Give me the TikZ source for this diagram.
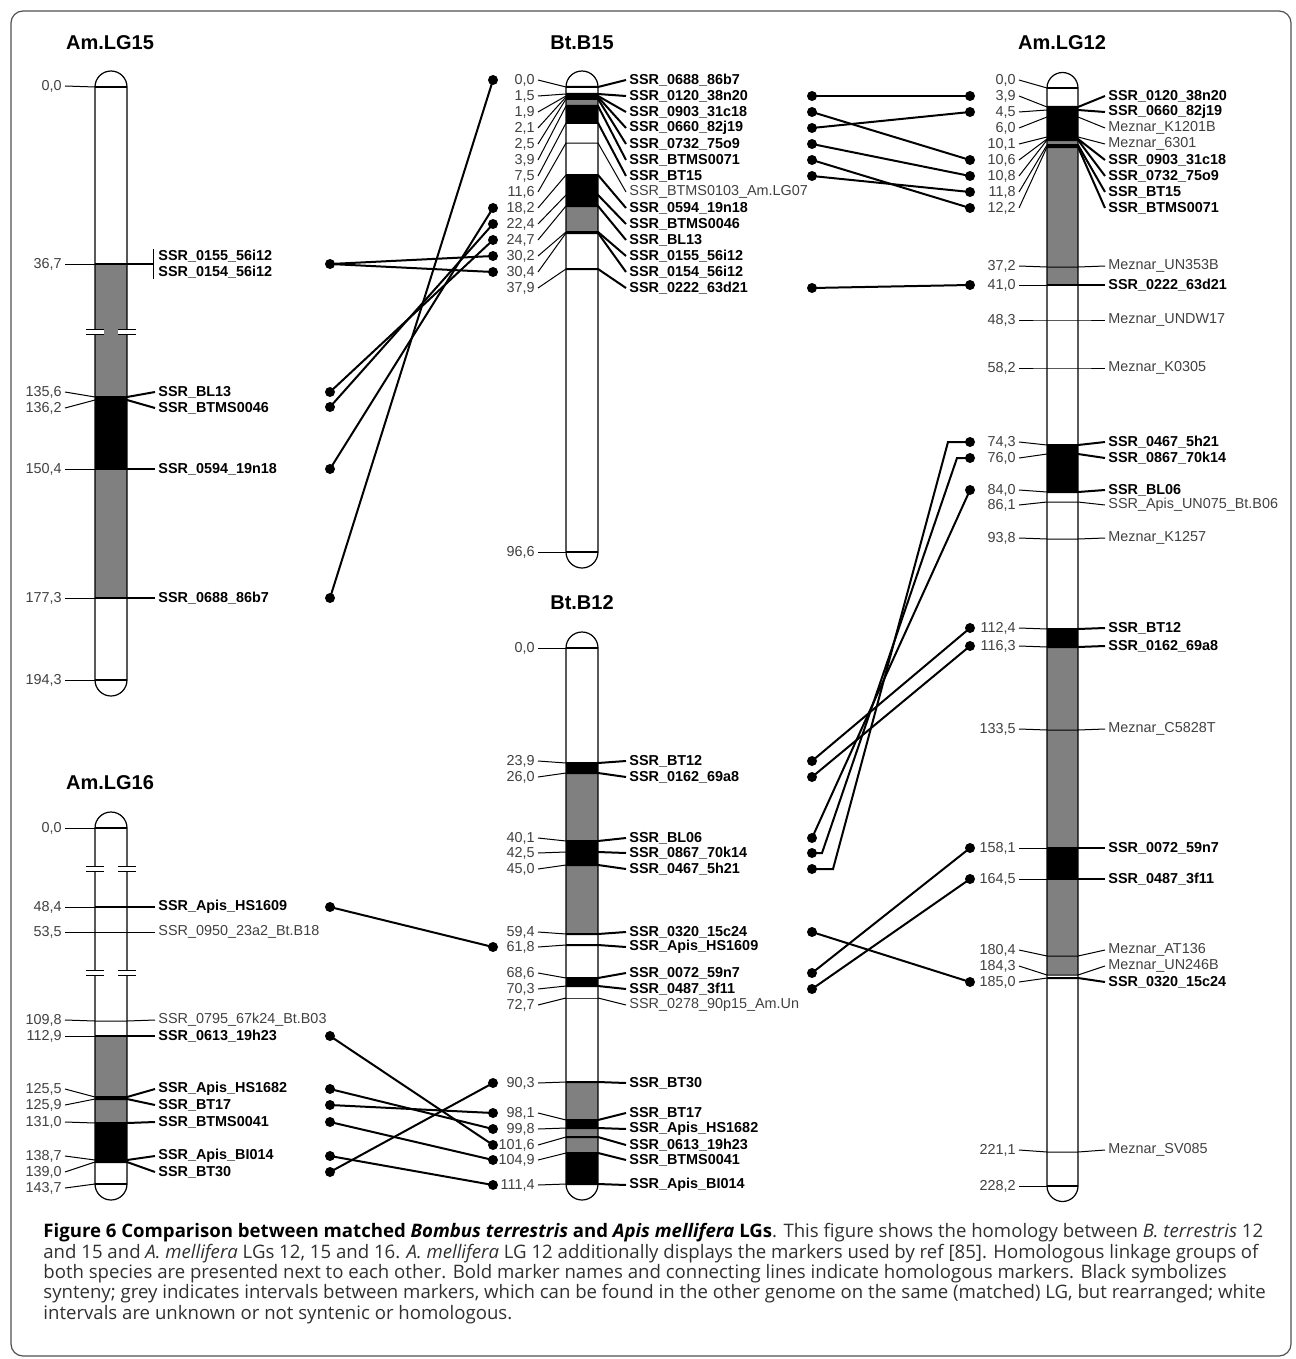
\documentclass[tikz,border=0pt]{standalone}
\usepackage{fontspec}
\setmainfont{Liberation Sans}
\newfontfamily\capfont{Open Sans}
\definecolor{numgray}{HTML}{404040}
\definecolor{bandgray}{HTML}{808080}
\definecolor{framegray}{HTML}{505050}
\definecolor{capgray}{HTML}{303030}
\begin{document}
\begin{tikzpicture}[x=0.5pt,y=-0.5pt,
num/.style={anchor=east, inner sep=1.5pt, text=numgray, font=\fontsize{7.2}{8}\selectfont},
bmk/.style={anchor=west, inner sep=1.5pt, font=\fontsize{7.2}{8}\selectfont\bfseries},
tmk/.style={anchor=west, inner sep=1.5pt, text=numgray, font=\fontsize{7.2}{8}\selectfont},
ttl/.style={font=\fontsize{10}{12}\selectfont\bfseries},
dot/.style={circle, fill, inner sep=0pt, minimum size=5pt},
tk/.style={line width=0.5pt},
tkb/.style={line width=1pt},
lnk/.style={line width=1pt},
chr/.style={line width=0.6pt},
captxt/.style={anchor=base west, inner sep=0pt, text=capgray, font=\capfont\fontsize{9.3}{10.3}\selectfont}]
\useasboundingbox (0,0) rectangle (1295,1359);
\draw[framegray, line width=0.6pt, rounded corners=6pt] (11,11) rectangle (1291,1356);

\node[ttl] (a15t) at (110,43) {Am.LG15};
\node[ttl] (b15t) at (582,43) {Bt.B15};
\node[ttl] (a12t) at (1062,43) {Am.LG12};
\node[ttl] (b12t) at (582,603) {Bt.B12};
\node[ttl] (a16t) at (110,783) {Am.LG16};

\fill[white] (95,680) -- (95,87) arc[start angle=180, end angle=0, radius=8pt] -- (127,680) arc[start angle=0, end angle=-180, radius=8pt] -- cycle;
\fill[bandgray] (95,264) rectangle (127,397);
\fill[black] (95,397) rectangle (127,469);
\fill[bandgray] (95,469) rectangle (127,598);
\node[num] (a15n0) at (65,86) {0,0};
\node[num] (a15n1) at (65,264) {36,7};
\node[num] (a15n2) at (65,392) {135,6};
\node[num] (a15n3) at (65,408) {136,2};
\node[num] (a15n4) at (65,469) {150,4};
\node[num] (a15n5) at (65,598) {177,3};
\node[num] (a15n6) at (65,680) {194,3};
\node[bmk] (a15m1) at (155,256) {SSR\_0155\_56i12};
\node[bmk] (a15m2) at (155,272) {SSR\_0154\_56i12};
\node[bmk] (a15m3) at (155,392) {SSR\_BL13};
\node[bmk] (a15m4) at (155,408) {SSR\_BTMS0046};
\node[bmk] (a15m5) at (155,469) {SSR\_0594\_19n18};
\node[bmk] (a15m6) at (155,598) {SSR\_0688\_86b7};
\draw[tk] (a15n0.east) -- (95,87); \draw[tkb] (95,87) -- (127,87);
\draw[tk] (a15n1.east) -- (95,264); \draw[tkb] (95,264) -- (153,264);
\draw[tk] (153,249) -- (153,279);
\draw[tk] (a15n2.east) -- (95,397); \draw[tkb] (95,397) -- (127,397) -- (a15m3.west);
\draw[tk] (a15n3.east) -- (95,400); \draw[tkb] (95,400) -- (127,400) -- (a15m4.west);
\draw[tk] (a15n4.east) -- (95,469); \draw[tkb] (95,469) -- (127,469) -- (a15m5.west);
\draw[tk] (a15n5.east) -- (95,598); \draw[tkb] (95,598) -- (127,598) -- (a15m6.west);
\draw[tk] (a15n6.east) -- (95,680); \draw[tkb] (95,680) -- (127,680);
\draw[chr] (95,680) -- (95,87) arc[start angle=180, end angle=0, radius=8pt] -- (127,680) arc[start angle=0, end angle=-180, radius=8pt] -- cycle;
\fill[white] (86,329) rectangle (104,334); \fill[white] (118,329) rectangle (136,334);
\draw[tk] (86,329) -- (104,329) (86,334) -- (104,334) (118,329) -- (136,329) (118,334) -- (136,334);

\fill[white] (95,1184) -- (95,828) arc[start angle=180, end angle=0, radius=8pt] -- (127,1184) arc[start angle=0, end angle=-180, radius=8pt] -- cycle;
\fill[bandgray] (95,1036) rectangle (127,1123);
\fill[black] (95,1097) rectangle (127,1099);
\fill[black] (95,1123) rectangle (127,1162);
\node[num] (a16n0) at (65,828) {0,0};
\node[num] (a16n1) at (65,907) {48,4};
\node[num] (a16n2) at (65,932) {53,5};
\node[num] (a16n3) at (65,1020) {109,8};
\node[num] (a16n4) at (65,1036) {112,9};
\node[num] (a16n5) at (65,1089) {125,5};
\node[num] (a16n6) at (65,1105) {125,9};
\node[num] (a16n7) at (65,1122) {131,0};
\node[num] (a16n8) at (65,1156) {138,7};
\node[num] (a16n9) at (65,1172) {139,0};
\node[num] (a16n10) at (65,1188) {143,7};
\node[bmk] (a16m1) at (155,907) {SSR\_Apis\_HS1609};
\node[tmk] (a16m2) at (155,932) {SSR\_0950\_23a2\_Bt.B18};
\node[tmk] (a16m3) at (155,1020) {SSR\_0795\_67k24\_Bt.B03};
\node[bmk] (a16m4) at (155,1036) {SSR\_0613\_19h23};
\node[bmk] (a16m5) at (155,1089) {SSR\_Apis\_HS1682};
\node[bmk] (a16m6) at (155,1105) {SSR\_BT17};
\node[bmk] (a16m7) at (155,1122) {SSR\_BTMS0041};
\node[bmk] (a16m8) at (155,1156) {SSR\_Apis\_BI014};
\node[bmk] (a16m9) at (155,1172) {SSR\_BT30};
\draw[tk] (a16n0.east) -- (95,828); \draw[tkb] (95,828) -- (127,828);
\draw[tk] (a16n1.east) -- (95,907); \draw[tkb] (95,907) -- (127,907) -- (a16m1.west);
\draw[tk] (a16n2.east) -- (95,932) -- (127,932) -- (a16m2.west);
\draw[tk] (a16n3.east) -- (95,1021) -- (127,1021) -- (a16m3.west);
\draw[tk] (a16n4.east) -- (95,1036); \draw[tkb] (95,1036) -- (127,1036) -- (a16m4.west);
\draw[tk] (a16n5.east) -- (95,1097); \draw[tkb] (95,1097) -- (127,1097) -- (a16m5.west);
\draw[tk] (a16n6.east) -- (95,1099); \draw[tkb] (95,1099) -- (127,1099) -- (a16m6.west);
\draw[tk] (a16n7.east) -- (95,1123); \draw[tkb] (95,1123) -- (127,1123) -- (a16m7.west);
\draw[tk] (a16n8.east) -- (95,1160); \draw[tkb] (95,1160) -- (127,1160) -- (a16m8.west);
\draw[tk] (a16n9.east) -- (95,1162); \draw[tkb] (95,1162) -- (127,1162) -- (a16m9.west);
\draw[tk] (a16n10.east) -- (95,1184); \draw[tkb] (95,1184) -- (127,1184);
\draw[chr] (95,1184) -- (95,828) arc[start angle=180, end angle=0, radius=8pt] -- (127,1184) arc[start angle=0, end angle=-180, radius=8pt] -- cycle;
\fill[white] (86,866) rectangle (104,871); \fill[white] (118,866) rectangle (136,871);
\draw[tk] (86,866) -- (104,866) (86,871) -- (104,871) (118,866) -- (136,866) (118,871) -- (136,871);
\fill[white] (86,970) rectangle (104,975); \fill[white] (118,970) rectangle (136,975);
\draw[tk] (86,970) -- (104,970) (86,975) -- (104,975) (118,970) -- (136,970) (118,975) -- (136,975);

\fill[white] (566,552) -- (566,87) arc[start angle=180, end angle=0, radius=8pt] -- (598,552) arc[start angle=0, end angle=-180, radius=8pt] -- cycle;
\fill[black] (566,94) rectangle (598,96);
\fill[bandgray] (566,96) rectangle (598,106);
\fill[black] (566,106) rectangle (598,123);
\fill[black] (566,175) rectangle (598,206);
\fill[bandgray] (566,206) rectangle (598,232);
\node[num] (b15n0) at (538,80) {0,0};
\node[num] (b15n1) at (538,96) {1,5};
\node[num] (b15n2) at (538,112) {1,9};
\node[num] (b15n3) at (538,128) {2,1};
\node[num] (b15n4) at (538,144) {2,5};
\node[num] (b15n5) at (538,160) {3,9};
\node[num] (b15n6) at (538,176) {7,5};
\node[num] (b15n7) at (538,192) {11,6};
\node[num] (b15n8) at (538,208) {18,2};
\node[num] (b15n9) at (538,224) {22,4};
\node[num] (b15n10) at (538,240) {24,7};
\node[num] (b15n11) at (538,256) {30,2};
\node[num] (b15n12) at (538,272) {30,4};
\node[num] (b15n13) at (538,288) {37,9};
\node[num] (b15n14) at (538,552) {96,6};
\node[bmk] (b15m0) at (626,80) {SSR\_0688\_86b7};
\node[bmk] (b15m1) at (626,96) {SSR\_0120\_38n20};
\node[bmk] (b15m2) at (626,112) {SSR\_0903\_31c18};
\node[bmk] (b15m3) at (626,128) {SSR\_0660\_82j19};
\node[bmk] (b15m4) at (626,144) {SSR\_0732\_75o9};
\node[bmk] (b15m5) at (626,160) {SSR\_BTMS0071};
\node[bmk] (b15m6) at (626,176) {SSR\_BT15};
\node[tmk] (b15m7) at (626,192) {SSR\_BTMS0103\_Am.LG07};
\node[bmk] (b15m8) at (626,208) {SSR\_0594\_19n18};
\node[bmk] (b15m9) at (626,224) {SSR\_BTMS0046};
\node[bmk] (b15m10) at (626,240) {SSR\_BL13};
\node[bmk] (b15m11) at (626,256) {SSR\_0155\_56i12};
\node[bmk] (b15m12) at (626,272) {SSR\_0154\_56i12};
\node[bmk] (b15m13) at (626,288) {SSR\_0222\_63d21};
\draw[tk] (b15n0.east) -- (566,87); \draw[tkb] (566,87) -- (598,87) -- (b15m0.west);
\draw[tk] (b15n1.east) -- (566,94); \draw[tkb] (566,94) -- (598,94) -- (b15m1.west);
\draw[tk] (b15n2.east) -- (566,96); \draw[tkb] (566,96) -- (598,96) -- (b15m2.west);
\draw[tk] (b15n3.east) -- (566,97); \draw[tkb] (566,97) -- (598,97) -- (b15m3.west);
\draw[tk] (b15n4.east) -- (566,99); \draw[tkb] (566,99) -- (598,99) -- (b15m4.west);
\draw[tk] (b15n5.east) -- (566,106); \draw[tkb] (566,106) -- (598,106) -- (b15m5.west);
\draw[tk] (b15n6.east) -- (566,123); \draw[tkb] (566,123) -- (598,123) -- (b15m6.west);
\draw[tk] (b15n7.east) -- (566,143) -- (598,143) -- (b15m7.west);
\draw[tk] (b15n8.east) -- (566,175); \draw[tkb] (566,175) -- (598,175) -- (b15m8.west);
\draw[tk] (b15n9.east) -- (566,195); \draw[tkb] (566,195) -- (598,195) -- (b15m9.west);
\draw[tk] (b15n10.east) -- (566,206); \draw[tkb] (566,206) -- (598,206) -- (b15m10.west);
\draw[tk] (b15n11.east) -- (566,232); \draw[tkb] (566,232) -- (598,232) -- (b15m11.west);
\draw[tk] (b15n12.east) -- (566,233); \draw[tkb] (566,233) -- (598,233) -- (b15m12.west);
\draw[tk] (b15n13.east) -- (566,269); \draw[tkb] (566,269) -- (598,269) -- (b15m13.west);
\draw[tk] (b15n14.east) -- (566,552); \draw[tkb] (566,552) -- (598,552);
\draw[chr] (566,552) -- (566,87) arc[start angle=180, end angle=0, radius=8pt] -- (598,552) arc[start angle=0, end angle=-180, radius=8pt] -- cycle;

\fill[white] (566,1184) -- (566,648) arc[start angle=180, end angle=0, radius=8pt] -- (598,1184) arc[start angle=0, end angle=-180, radius=8pt] -- cycle;
\fill[black] (566,763) rectangle (598,773);
\fill[bandgray] (566,773) rectangle (598,841);
\fill[black] (566,841) rectangle (598,865);
\fill[bandgray] (566,865) rectangle (598,934);
\fill[black] (566,978) rectangle (598,986);
\fill[bandgray] (566,1082) rectangle (598,1120);
\fill[black] (566,1120) rectangle (598,1128);
\fill[bandgray] (566,1128) rectangle (598,1153);
\fill[black] (566,1153) rectangle (598,1184);
\node[num] (b12n0) at (538,648) {0,0};
\node[num] (b12n1) at (538,761) {23,9};
\node[num] (b12n2) at (538,777) {26,0};
\node[num] (b12n3) at (538,838) {40,1};
\node[num] (b12n4) at (538,853) {42,5};
\node[num] (b12n5) at (538,869) {45,0};
\node[num] (b12n6) at (538,932) {59,4};
\node[num] (b12n7) at (538,947) {61,8};
\node[num] (b12n8) at (538,973) {68,6};
\node[num] (b12n9) at (538,989) {70,3};
\node[num] (b12n10) at (538,1005) {72,7};
\node[num] (b12n11) at (538,1083) {90,3};
\node[num] (b12n12) at (538,1113) {98,1};
\node[num] (b12n13) at (538,1129) {99,8};
\node[num] (b12n14) at (538,1145) {101,6};
\node[num] (b12n15) at (538,1160) {104,9};
\node[num] (b12n16) at (538,1185) {111,4};
\node[bmk] (b12m1) at (626,761) {SSR\_BT12};
\node[bmk] (b12m2) at (626,777) {SSR\_0162\_69a8};
\node[bmk] (b12m3) at (626,838) {SSR\_BL06};
\node[bmk] (b12m4) at (626,853) {SSR\_0867\_70k14};
\node[bmk] (b12m5) at (626,869) {SSR\_0467\_5h21};
\node[bmk] (b12m6) at (626,932) {SSR\_0320\_15c24};
\node[bmk] (b12m7) at (626,947) {SSR\_Apis\_HS1609};
\node[bmk] (b12m8) at (626,973) {SSR\_0072\_59n7};
\node[bmk] (b12m9) at (626,989) {SSR\_0487\_3f11};
\node[tmk] (b12m10) at (626,1005) {SSR\_0278\_90p15\_Am.Un};
\node[bmk] (b12m11) at (626,1083) {SSR\_BT30};
\node[bmk] (b12m12) at (626,1113) {SSR\_BT17};
\node[bmk] (b12m13) at (626,1129) {SSR\_Apis\_HS1682};
\node[bmk] (b12m14) at (626,1145) {SSR\_0613\_19h23};
\node[bmk] (b12m15) at (626,1160) {SSR\_BTMS0041};
\node[bmk] (b12m16) at (626,1185) {SSR\_Apis\_BI014};
\draw[tk] (b12n0.east) -- (566,648); \draw[tkb] (566,648) -- (598,648);
\draw[tk] (b12n1.east) -- (566,763); \draw[tkb] (566,763) -- (598,763) -- (b12m1.west);
\draw[tk] (b12n2.east) -- (566,773); \draw[tkb] (566,773) -- (598,773) -- (b12m2.west);
\draw[tk] (b12n3.east) -- (566,841); \draw[tkb] (566,841) -- (598,841) -- (b12m3.west);
\draw[tk] (b12n4.east) -- (566,852); \draw[tkb] (566,852) -- (598,852) -- (b12m4.west);
\draw[tk] (b12n5.east) -- (566,865); \draw[tkb] (566,865) -- (598,865) -- (b12m5.west);
\draw[tk] (b12n6.east) -- (566,934); \draw[tkb] (566,934) -- (598,934) -- (b12m6.west);
\draw[tk] (b12n7.east) -- (566,945); \draw[tkb] (566,945) -- (598,945) -- (b12m7.west);
\draw[tk] (b12n8.east) -- (566,978); \draw[tkb] (566,978) -- (598,978) -- (b12m8.west);
\draw[tk] (b12n9.east) -- (566,986); \draw[tkb] (566,986) -- (598,986) -- (b12m9.west);
\draw[tk] (b12n10.east) -- (566,998); \draw[tk, numgray] (566,998) -- (598,998); \draw[tk] (598,998) -- (b12m10.west);
\draw[tk] (b12n11.east) -- (566,1082); \draw[tkb] (566,1082) -- (598,1082) -- (b12m11.west);
\draw[tk] (b12n12.east) -- (566,1120); \draw[tkb] (566,1120) -- (598,1120) -- (b12m12.west);
\draw[tk] (b12n13.east) -- (566,1128); \draw[tkb] (566,1128) -- (598,1128) -- (b12m13.west);
\draw[tk] (b12n14.east) -- (566,1137); \draw[tkb] (566,1137) -- (598,1137) -- (b12m14.west);
\draw[tk] (b12n15.east) -- (566,1153); \draw[tkb] (566,1153) -- (598,1153) -- (b12m15.west);
\draw[tk] (b12n16.east) -- (566,1184); \draw[tkb] (566,1184) -- (598,1184) -- (b12m16.west);
\draw[chr] (566,1184) -- (566,648) arc[start angle=180, end angle=0, radius=8pt] -- (598,1184) arc[start angle=0, end angle=-180, radius=8pt] -- cycle;

\fill[white] (1047,1186) -- (1047,88) arc[start angle=180, end angle=0, radius=7.75pt] -- (1078,1186) arc[start angle=0, end angle=-180, radius=7.75pt] -- cycle;
\fill[black] (1047,107) rectangle (1078,139);
\fill[bandgray] (1047,139) rectangle (1078,285);
\fill[black] (1047,445) rectangle (1078,492);
\fill[black] (1047,629) rectangle (1078,647);
\fill[bandgray] (1047,647) rectangle (1078,848);
\fill[black] (1047,848) rectangle (1078,879);
\fill[bandgray] (1047,879) rectangle (1078,975);
\node[num] (a12n0) at (1019,80) {0,0};
\node[num] (a12n1) at (1019,96) {3,9};
\node[num] (a12n2) at (1019,112) {4,5};
\node[num] (a12n3) at (1019,128) {6,0};
\node[num] (a12n4) at (1019,144) {10,1};
\node[num] (a12n5) at (1019,160) {10,6};
\node[num] (a12n6) at (1019,176) {10,8};
\node[num] (a12n7) at (1019,192) {11,8};
\node[num] (a12n8) at (1019,208) {12,2};
\node[num] (a12n9) at (1019,266) {37,2};
\node[num] (a12n10) at (1019,285) {41,0};
\node[num] (a12n11) at (1019,320) {48,3};
\node[num] (a12n12) at (1019,368) {58,2};
\node[num] (a12n13) at (1019,442) {74,3};
\node[num] (a12n14) at (1019,458) {76,0};
\node[num] (a12n15) at (1019,490) {84,0};
\node[num] (a12n16) at (1019,505) {86,1};
\node[num] (a12n17) at (1019,538) {93,8};
\node[num] (a12n18) at (1019,628) {112,4};
\node[num] (a12n19) at (1019,646) {116,3};
\node[num] (a12n20) at (1019,729) {133,5};
\node[num] (a12n21) at (1019,848) {158,1};
\node[num] (a12n22) at (1019,879) {164,5};
\node[num] (a12n23) at (1019,950) {180,4};
\node[num] (a12n24) at (1019,966) {184,3};
\node[num] (a12n25) at (1019,982) {185,0};
\node[num] (a12n26) at (1019,1150) {221,1};
\node[num] (a12n27) at (1019,1186) {228,2};
\node[bmk] (a12m1) at (1105,96) {SSR\_0120\_38n20};
\node[bmk] (a12m2) at (1105,112) {SSR\_0660\_82j19};
\node[tmk] (a12m3) at (1105,128) {Meznar\_K1201B};
\node[tmk] (a12m4) at (1105,144) {Meznar\_6301};
\node[bmk] (a12m5) at (1105,160) {SSR\_0903\_31c18};
\node[bmk] (a12m6) at (1105,176) {SSR\_0732\_75o9};
\node[bmk] (a12m7) at (1105,192) {SSR\_BT15};
\node[bmk] (a12m8) at (1105,208) {SSR\_BTMS0071};
\node[tmk] (a12m9) at (1105,266) {Meznar\_UN353B};
\node[bmk] (a12m10) at (1105,285) {SSR\_0222\_63d21};
\node[tmk] (a12m11) at (1105,320) {Meznar\_UNDW17};
\node[tmk] (a12m12) at (1105,368) {Meznar\_K0305};
\node[bmk] (a12m13) at (1105,442) {SSR\_0467\_5h21};
\node[bmk] (a12m14) at (1105,458) {SSR\_0867\_70k14};
\node[bmk] (a12m15) at (1105,490) {SSR\_BL06};
\node[tmk] (a12m16) at (1105,505) {SSR\_Apis\_UN075\_Bt.B06};
\node[tmk] (a12m17) at (1105,538) {Meznar\_K1257};
\node[bmk] (a12m18) at (1105,628) {SSR\_BT12};
\node[bmk] (a12m19) at (1105,646) {SSR\_0162\_69a8};
\node[tmk] (a12m20) at (1105,729) {Meznar\_C5828T};
\node[bmk] (a12m21) at (1105,848) {SSR\_0072\_59n7};
\node[bmk] (a12m22) at (1105,879) {SSR\_0487\_3f11};
\node[tmk] (a12m23) at (1105,950) {Meznar\_AT136};
\node[tmk] (a12m24) at (1105,966) {Meznar\_UN246B};
\node[bmk] (a12m25) at (1105,982) {SSR\_0320\_15c24};
\node[tmk] (a12m26) at (1105,1150) {Meznar\_SV085};
\draw[tk] (a12n0.east) -- (1047,88); \draw[tkb] (1047,88) -- (1078,88);
\draw[tk] (a12n1.east) -- (1047,107); \draw[tkb] (1047,107) -- (1078,107) -- (a12m1.west);
\draw[tk] (a12n2.east) -- (1047,110); \draw[tkb] (1047,110) -- (1078,110) -- (a12m2.west);
\draw[tk] (a12n3.east) -- (1047,117) -- (1078,117) -- (a12m3.west);
\draw[tk] (a12n4.east) -- (1047,137) -- (1078,137) -- (a12m4.west);
\draw[tk] (a12n5.east) -- (1047,139); \draw[tkb] (1047,139) -- (1078,139) -- (a12m5.west);
\draw[tk] (a12n6.east) -- (1047,140); \draw[tkb] (1047,140) -- (1078,140) -- (a12m6.west);
\draw[tk] (a12n7.east) -- (1047,145); \draw[tkb] (1047,145) -- (1078,145) -- (a12m7.west);
\draw[tk] (a12n8.east) -- (1047,147); \draw[tkb] (1047,147) -- (1078,147) -- (a12m8.west);
\draw[tk] (a12n9.east) -- (1047,267) -- (1078,267) -- (a12m9.west);
\draw[tk] (a12n10.east) -- (1047,285); \draw[tkb] (1047,285) -- (1078,285) -- (a12m10.west);
\draw[tk] (a12n11.east) -- (1047,320) -- (1078,320) -- (a12m11.west);
\draw[tk] (a12n12.east) -- (1047,368) -- (1078,368) -- (a12m12.west);
\draw[tk] (a12n13.east) -- (1047,445); \draw[tkb] (1047,445) -- (1078,445) -- (a12m13.west);
\draw[tk] (a12n14.east) -- (1047,454); \draw[tkb] (1047,454) -- (1078,454) -- (a12m14.west);
\draw[tk] (a12n15.east) -- (1047,492); \draw[tkb] (1047,492) -- (1078,492) -- (a12m15.west);
\draw[tk] (a12n16.east) -- (1047,502) -- (1078,502) -- (a12m16.west);
\draw[tk] (a12n17.east) -- (1047,539) -- (1078,539) -- (a12m17.west);
\draw[tk] (a12n18.east) -- (1047,629); \draw[tkb] (1047,629) -- (1078,629) -- (a12m18.west);
\draw[tk] (a12n19.east) -- (1047,647); \draw[tkb] (1047,647) -- (1078,647) -- (a12m19.west);
\draw[tk] (a12n20.east) -- (1047,730) -- (1078,730) -- (a12m20.west);
\draw[tk] (a12n21.east) -- (1047,848); \draw[tkb] (1047,848) -- (1078,848) -- (a12m21.west);
\draw[tk] (a12n22.east) -- (1047,879); \draw[tkb] (1047,879) -- (1078,879) -- (a12m22.west);
\draw[tk] (a12n23.east) -- (1047,956) -- (1078,956) -- (a12m23.west);
\draw[tk] (a12n24.east) -- (1047,975) -- (1078,975) -- (a12m24.west);
\draw[tk] (a12n25.east) -- (1047,978); \draw[tkb] (1047,978) -- (1078,978) -- (a12m25.west);
\draw[tk] (a12n26.east) -- (1047,1152) -- (1078,1152) -- (a12m26.west);
\draw[tk] (a12n27.east) -- (1047,1186); \draw[tkb] (1047,1186) -- (1078,1186);
\draw[chr] (1047,1186) -- (1047,88) arc[start angle=180, end angle=0, radius=7.75pt] -- (1078,1186) arc[start angle=0, end angle=-180, radius=7.75pt] -- cycle;

\node[dot] (a15d0) at (330,264) {};
\node[dot] (a15d1) at (330,392) {};
\node[dot] (a15d2) at (330,407) {};
\node[dot] (a15d3) at (330,469) {};
\node[dot] (a15d4) at (330,598) {};
\node[dot] (b15l0) at (493,80) {};
\node[dot] (b15l1) at (493,208) {};
\node[dot] (b15l2) at (493,224) {};
\node[dot] (b15l3) at (493,240) {};
\node[dot] (b15l4) at (493,256) {};
\node[dot] (b15l5) at (493,272) {};
\node[dot] (b15r0) at (812,96) {};
\node[dot] (b15r1) at (812,112) {};
\node[dot] (b15r2) at (812,128) {};
\node[dot] (b15r3) at (812,144) {};
\node[dot] (b15r4) at (812,160) {};
\node[dot] (b15r5) at (812,176) {};
\node[dot] (b15r6) at (812,288) {};
\node[dot] (a12d0) at (970,96) {};
\node[dot] (a12d1) at (970,112) {};
\node[dot] (a12d2) at (970,160) {};
\node[dot] (a12d3) at (970,176) {};
\node[dot] (a12d4) at (970,192) {};
\node[dot] (a12d5) at (970,208) {};
\node[dot] (a12d6) at (970,285) {};
\node[dot] (a12d7) at (970,442) {};
\node[dot] (a12d8) at (970,458) {};
\node[dot] (a12d9) at (970,490) {};
\node[dot] (a12d10) at (970,628) {};
\node[dot] (a12d11) at (970,646) {};
\node[dot] (a12d12) at (970,848) {};
\node[dot] (a12d13) at (970,879) {};
\node[dot] (a12d14) at (970,982) {};
\node[dot] (a16d0) at (330,907) {};
\node[dot] (a16d1) at (330,1036) {};
\node[dot] (a16d2) at (330,1089) {};
\node[dot] (a16d3) at (330,1105) {};
\node[dot] (a16d4) at (330,1122) {};
\node[dot] (a16d5) at (330,1156) {};
\node[dot] (a16d6) at (330,1172) {};
\node[dot] (b12l0) at (493,947) {};
\node[dot] (b12l1) at (493,1083) {};
\node[dot] (b12l2) at (493,1113) {};
\node[dot] (b12l3) at (493,1129) {};
\node[dot] (b12l4) at (493,1145) {};
\node[dot] (b12l5) at (493,1160) {};
\node[dot] (b12l6) at (493,1185) {};
\node[dot] (b12r0) at (812,761) {};
\node[dot] (b12r1) at (812,777) {};
\node[dot] (b12r2) at (812,838) {};
\node[dot] (b12r3) at (812,853) {};
\node[dot] (b12r4) at (812,869) {};
\node[dot] (b12r5) at (812,932) {};
\node[dot] (b12r6) at (812,973) {};
\node[dot] (b12r7) at (812,989) {};

\draw[lnk] (a15d0.center) -- (b15l4.center);
\draw[lnk] (a15d0.center) -- (b15l5.center);
\draw[lnk] (a15d1.center) -- (b15l3.center);
\draw[lnk] (a15d2.center) -- (b15l2.center);
\draw[lnk] (a15d3.center) -- (b15l1.center);
\draw[lnk] (a15d4.center) -- (b15l0.center);
\draw[lnk] (b15r0.center) -- (a12d0.center);
\draw[lnk] (b15r1.center) -- (a12d2.center);
\draw[lnk] (b15r2.center) -- (a12d1.center);
\draw[lnk] (b15r3.center) -- (a12d3.center);
\draw[lnk] (b15r4.center) -- (a12d5.center);
\draw[lnk] (b15r5.center) -- (a12d4.center);
\draw[lnk] (b15r6.center) -- (a12d6.center);
\draw[lnk] (a16d0.center) -- (b12l0.center);
\draw[lnk] (a16d1.center) -- (b12l4.center);
\draw[lnk] (a16d2.center) -- (b12l3.center);
\draw[lnk] (a16d3.center) -- (b12l2.center);
\draw[lnk] (a16d4.center) -- (b12l5.center);
\draw[lnk] (a16d5.center) -- (b12l6.center);
\draw[lnk] (a16d6.center) -- (b12l1.center);
\draw[lnk] (b12r0.center) -- (a12d10.center);
\draw[lnk] (b12r1.center) -- (a12d11.center);
\draw[lnk] (b12r2.center) -- (a12d9.center);
\draw[lnk] (b12r3.center) -- (822,853) -- (957,458) -- (a12d8.center);
\draw[lnk] (b12r4.center) -- (833,869) -- (948,442) -- (a12d7.center);
\draw[lnk] (b12r5.center) -- (a12d14.center);
\draw[lnk] (b12r6.center) -- (a12d12.center);
\draw[lnk] (b12r7.center) -- (a12d13.center);

\node[captxt] (fig1) at (43,1237) {{\bfseries\color{black}Figure 6 Comparison between matched \itshape Bombus terrestris\upshape\ and \itshape Apis mellifera\upshape\ LGs}. This figure shows the homology between \textit{B. terrestris} 12};
\node[captxt] (fig2) at (43,1258) {and 15 and \textit{A. mellifera} LGs 12, 15 and 16. \textit{A. mellifera} LG 12 additionally displays the markers used by ref [85]. Homologous linkage groups of};
\node[captxt] (fig3) at (43,1278) {both species are presented next to each other. Bold marker names and connecting lines indicate homologous markers. Black symbolizes};
\node[captxt] (fig4) at (43,1298) {synteny; grey indicates intervals between markers, which can be found in the other genome on the same (matched) LG, but rearranged; white};
\node[captxt] (fig5) at (43,1319) {intervals are unknown or not syntenic or homologous.};
\end{tikzpicture}
\end{document}
